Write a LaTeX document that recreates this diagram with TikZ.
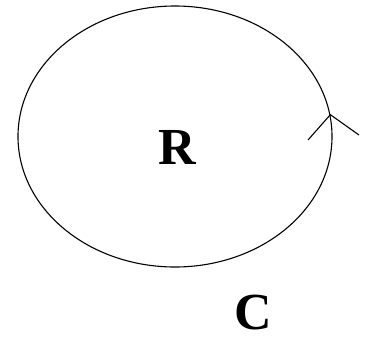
\documentclass[tikz,border=0pt]{standalone}
\usepackage{fontspec}
\setmainfont{Liberation Serif}
\usetikzlibrary{shapes.geometric}
\begin{document}
\begin{tikzpicture}[x=1pt,y=-1pt,
  curve/.style={draw=black, line width=1.1pt},
  lbl/.style={font=\fontsize{52}{56}\selectfont\bfseries, inner sep=0pt}]
\useasboundingbox (0,0) rectangle (367,341);
\node (E) [ellipse, curve, minimum width=314pt, minimum height=261pt, inner sep=0pt] at (175,136.5) {};
\coordinate (tip) at (E.8.5);
\coordinate (la) at (308,140);
\coordinate (lb) at (359,135);
\draw[curve] (la) -- (tip) -- (lb);
\node (R) [lbl, anchor=base] at (177,164) {R};
\node (C) [lbl, anchor=base] at (253,329) {C};
\end{tikzpicture}
\end{document}
